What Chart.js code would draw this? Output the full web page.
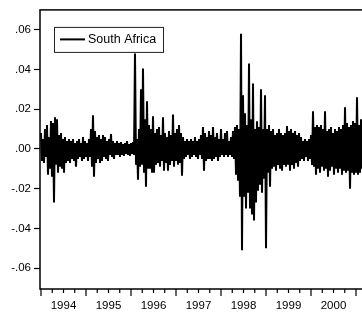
<!DOCTYPE html>
<html lang="en">
<head>
    <meta charset="UTF-8">
    <meta name="viewport" content="width=device-width, initial-scale=1.0">
    <title>South Africa daily returns</title>
    <script src="https://cdn.jsdelivr.net/npm/chart.js"></script>
    <style>
        html, body {
            margin: 0;
            padding: 0;
            overflow: hidden;
            background-color: #fff;
        }
    </style>
</head>
<body>

    <canvas id="returnsChart" width="380" height="313"></canvas>

    <script>
        // Series (high/low swings, roughly two per pixel column)
        const seriesLabel = 'South Africa';
        const firstObs = 1994.0;
        const obsPerYear = 45;
        const returns = [
            // 1994
            .008,-.006, .005,-.007, .010,-.004, .012,-.013, .006,-.010, .014,-.014, .013,-.027, .016,-.008,
            .015,-.012, .007,-.009, .008,-.010, .005,-.012, .006,-.007, .004,-.006, .005,-.007, .004,-.005,
            .005,-.006, .003,-.009, .004,-.005, .005,-.004, .003,-.006, .006,-.005, .004,-.004,
            // 1995
            .003,-.006, .005,-.004, .010,-.009, .017,-.014, .009,-.007, .006,-.005, .007,-.007, .005,-.006,
            .007,-.004, .006,-.005, .004,-.006, .005,-.003, .0075,-.004, .004,-.005, .003,-.003, .004,-.003,
            .003,-.004, .0035,-.003, .0025,-.0035, .003,-.0025, .004,-.003, .0025,-.0035,
            // 1996
            .003,-.0025, .0035,-.003, .048,-.008, .005,-.0155, .010,-.009, .030,-.008, .0405,-.012, .015,-.019,
            .024,-.010, .012,-.010, .010,-.012, .0165,-.012, .008,-.008, .010,-.007, .011,-.009, .007,-.006,
            .016,-.011, .008,-.007, .006,-.011, .009,-.008, .007,-.006, .0173,-.009, .008,-.006,
            // 1997
            .010,-.008, .012,-.007, .008,-.0135, .006,-.005, .004,-.004, .005,-.003, .004,-.005, .005,-.004,
            .004,-.003, .006,-.004, .004,-.005, .005,-.003, .007,-.005, .011,-.011, .008,-.006, .006,-.005,
            .009,-.005, .007,-.006, .011,-.005, .006,-.004, .008,-.006, .005,-.004,
            // 1998
            .010,-.003, .005,-.004, .008,-.003, .009,-.004, .004,-.003, .006,-.004, .009,-.005, .011,-.013,
            .012,-.016, .010,-.024, .058,-.051, .027,-.024, .018,-.030, .012,-.022, .043,-.030, .015,-.033,
            .033,-.036, .010,-.027, .014,-.021, .011,-.018, .030,-.022, .010,-.015, .027,-.050,
            // 1999
            .010,-.012, .012,-.019, .009,-.010, .010,-.009, .007,-.011, .008,-.008, .010,-.010, .008,-.011,
            .007,-.008, .008,-.009, .0115,-.008, .009,-.011, .010,-.008, .008,-.010, .009,-.007, .007,-.009,
            .008,-.006, .006,-.005, .004,-.006, .005,-.004, .004,-.006, .005,-.005,
            // 2000
            .007,-.008, .019,-.009, .011,-.013, .012,-.010, .011,-.012, .012,-.009, .010,-.011, .019,-.010,
            .009,-.014, .010,-.011, .011,-.009, .008,-.013, .010,-.010, .009,-.012, .011,-.010, .010,-.013,
            .012,-.011, .021,-.012, .013,-.011, .011,-.020, .012,-.012, .014,-.013, .013,-.012,
            // 2001
            .026,-.013, .012,-.012, .015,-.010
        ];

        const tickYears = [1994, 1995, 1996, 1997, 1998, 1999, 2000, 2001];
        const yearLabels = ['1994', '1995', '1996', '1997', '1998', '1999', '2000'];
        const yTicks = [0.06, 0.04, 0.02, 0, -0.02, -0.04, -0.06];

        const xMin = 1993.978;
        const xMax = 2001.533;

        // quarterly tick marks, year labels sit on the mid-year tick
        const xTicks = [];
        tickYears.forEach(y => [0, 0.25, 0.5, 0.75].forEach(q => {
            if (y + q >= xMin && y + q <= xMax) xTicks.push(y + q);
        }));

        const points = returns.map((r, i) => ({ x: firstObs + i / obsPerYear, y: r }));

        const font = { family: '"Liberation Sans", Arial, sans-serif', size: 11.5 };

        // frame, x tick marks and the boxed legend
        const framePlugin = {
            id: 'framePlugin',
            afterDraw(chart) {
                const { ctx, chartArea: a, scales: { x } } = chart;
                ctx.save();
                ctx.strokeStyle = '#000';
                ctx.lineWidth = 1.5;
                ctx.strokeRect(a.left, a.top, a.right - a.left, a.bottom - a.top);

                ctx.lineWidth = 1.2;
                x.ticks.forEach(t => {
                    const px = x.getPixelForValue(t.value);
                    const len = Number.isInteger(t.value) ? 7 : 4;
                    ctx.beginPath();
                    ctx.moveTo(px, a.bottom);
                    ctx.lineTo(px, a.bottom + len);
                    ctx.stroke();
                });

                // legend box
                const bx = a.left + 14, by = a.top + 17, bw = 109, bh = 25;
                ctx.fillStyle = '#fff';
                ctx.fillRect(bx, by, bw, bh);
                ctx.lineWidth = 1;
                ctx.strokeStyle = '#222';
                ctx.strokeRect(bx + 0.5, by + 0.5, bw, bh);
                ctx.strokeStyle = '#000';
                ctx.lineWidth = 2;
                ctx.beginPath();
                ctx.moveTo(bx + 6, by + 12.5);
                ctx.lineTo(bx + 31, by + 12.5);
                ctx.stroke();
                ctx.fillStyle = '#000';
                ctx.font = '12.5px "Liberation Sans", Arial, sans-serif';
                ctx.textBaseline = 'middle';
                ctx.fillText(chart.data.datasets[0].label, bx + 34, by + 12.5);
                ctx.restore();
            }
        };

        const ctx = document.getElementById('returnsChart').getContext('2d');
        const returnsChart = new Chart(ctx, {
            type: 'line',
            data: {
                datasets: [{
                    label: seriesLabel,
                    data: points,
                    borderColor: '#000',
                    borderWidth: 2,
                    pointRadius: 0,
                    tension: 0,
                    fill: false
                }]
            },
            options: {
                responsive: false,
                animation: false,
                layout: { padding: { top: 8, left: 0, right: 0, bottom: 0 } },
                plugins: {
                    legend: { display: false },
                    tooltip: { enabled: false }
                },
                scales: {
                    x: {
                        type: 'linear',
                        min: xMin,
                        max: xMax,
                        afterBuildTicks: s => { s.ticks = xTicks.map(v => ({ value: v })); },
                        afterFit: s => {
                            s.height = 24;
                            s.paddingLeft = 0;
                            s.paddingRight = 0;
                        },
                        grid: { display: false, drawTicks: false },
                        border: { display: false },
                        ticks: {
                            autoSkip: false,
                            maxRotation: 0,
                            padding: 10,
                            color: '#000',
                            font: font,
                            callback: v => {
                                const y = Math.floor(v);
                                return (v - y === 0.5) ? yearLabels[tickYears.indexOf(y)] || '' : '';
                            }
                        }
                    },
                    y: {
                        min: -0.0705,
                        max: 0.07,
                        afterBuildTicks: s => { s.ticks = yTicks.map(v => ({ value: v })); },
                        afterFit: s => { s.width = 40; },
                        grid: {
                            drawOnChartArea: false,
                            tickLength: 6,
                            tickColor: '#000',
                            tickWidth: 1.2
                        },
                        border: { display: false },
                        ticks: {
                            padding: 3,
                            color: '#000',
                            font: font,
                            callback: v => (v < 0 ? '-' : '') + Math.abs(v).toFixed(2).slice(1)
                        }
                    }
                }
            },
            plugins: [framePlugin]
        });
    </script>

</body>
</html>
